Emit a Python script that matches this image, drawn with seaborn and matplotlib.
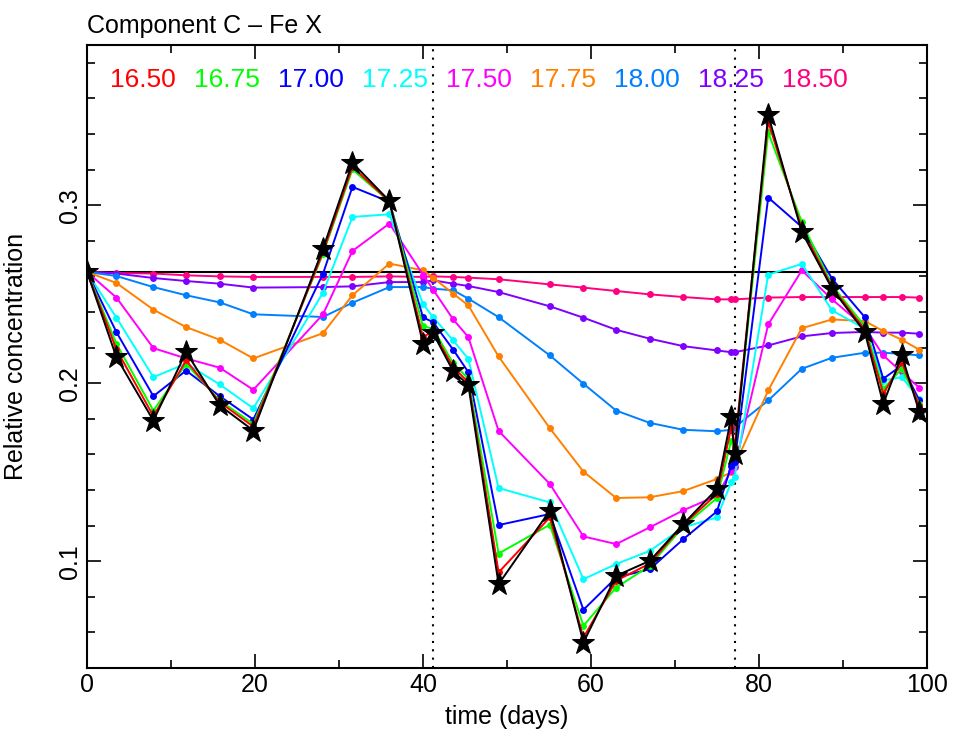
import pandas as pd
import matplotlib
matplotlib.use('Agg')
import matplotlib.pyplot as plt
import seaborn as sns
from matplotlib.ticker import MultipleLocator

# observation times (days)
t = [0, 3.5, 7.9, 11.8, 15.8, 19.8, 28.1, 31.6, 36.0, 40.0, 41.2, 43.6, 45.4, 49.0, 55.1,
     59.1, 63.0, 67.0, 71.0, 75.0, 76.7, 77.1, 81.1, 85.1, 88.7, 92.6, 94.8, 97.0, 99.1]

obs = [0.2625, 0.2146, 0.1790, 0.2175, 0.1875, 0.1734, 0.2756, 0.3238, 0.3024, 0.2222,
       0.2281, 0.2067, 0.1990, 0.0871, 0.1284, 0.0543, 0.0918, 0.1002, 0.1209, 0.1406,
       0.1809, 0.1603, 0.3506, 0.2850, 0.2531, 0.2287, 0.1884, 0.2156, 0.1837]

c1650 = [0.2625, 0.2190, 0.1815, 0.2128, 0.1893, 0.1756, 0.2737, 0.3216, 0.3020, 0.2260,
         0.2290, 0.2090, 0.2005, 0.0937, 0.1246, 0.0571, 0.0890, 0.0987, 0.1205, 0.1378,
         0.1752, 0.1640, 0.3469, 0.2870, 0.2540, 0.2300, 0.1940, 0.2118, 0.1870]
c1675 = [0.2625, 0.2222, 0.1846, 0.2109, 0.1903, 0.1771, 0.2728, 0.3201, 0.3020, 0.2320,
         0.2306, 0.2111, 0.2025, 0.1043, 0.1205, 0.0637, 0.0852, 0.0974, 0.1195, 0.1355,
         0.1678, 0.1612, 0.3409, 0.2906, 0.2550, 0.2320, 0.1968, 0.2081, 0.1884]
c1700 = [0.2625, 0.2287, 0.1927, 0.2071, 0.1927, 0.1796, 0.2616, 0.3103, 0.3019, 0.2370,
         0.2343, 0.2188, 0.2062, 0.1203, 0.1265, 0.0727, 0.0908, 0.0955, 0.1124, 0.1280,
         0.1537, 0.1556, 0.3043, 0.2878, 0.2587, 0.2371, 0.2025, 0.2100, 0.1903]
c1725 = [0.2625, 0.2368, 0.2034, 0.2110, 0.1993, 0.1859, 0.2509, 0.2934, 0.2949, 0.2445,
         0.2371, 0.2240, 0.2137, 0.1411, 0.1330, 0.0899, 0.0984, 0.1058, 0.1190, 0.1246,
         0.1443, 0.1471, 0.2610, 0.2670, 0.2409, 0.2306, 0.2015, 0.2034, 0.1912]
c1750 = [0.2625, 0.2481, 0.2197, 0.2139, 0.2087, 0.1963, 0.2387, 0.2743, 0.2897, 0.2610,
         0.2526, 0.2358, 0.2259, 0.1732, 0.1434, 0.1139, 0.1096, 0.1190, 0.1286, 0.1368,
         0.1509, 0.1527, 0.2330, 0.2634, 0.2471, 0.2315, 0.2156, 0.2062, 0.1974]
c1775 = [0.2625, 0.2563, 0.2413, 0.2315, 0.2244, 0.2139, 0.2281, 0.2494, 0.2672, 0.2634,
         0.2593, 0.2503, 0.2437, 0.2150, 0.1747, 0.1503, 0.1355, 0.1359, 0.1394, 0.1462,
         0.1499, 0.1537, 0.1959, 0.2309, 0.2358, 0.2349, 0.2293, 0.2244, 0.2188]
c1800 = [0.2625, 0.2602, 0.2540, 0.2494, 0.2454, 0.2387, 0.2372, 0.2452, 0.2540, 0.2540,
         0.2531, 0.2522, 0.2475, 0.2371, 0.2156, 0.1997, 0.1846, 0.1777, 0.1738, 0.1730,
         0.1738, 0.1752, 0.1903, 0.2081, 0.2143, 0.2171, 0.2171, 0.2165, 0.2156]
c1825 = [0.2625, 0.2616, 0.2591, 0.2574, 0.2559, 0.2537, 0.2540, 0.2544, 0.2568, 0.2568,
         0.2578, 0.2559, 0.2546, 0.2512, 0.2432, 0.2368, 0.2300, 0.2250, 0.2208, 0.2184,
         0.2174, 0.2174, 0.2212, 0.2263, 0.2282, 0.2288, 0.2284, 0.2284, 0.2278]
c1850 = [0.2625, 0.2619, 0.2616, 0.2606, 0.2600, 0.2597, 0.2597, 0.2597, 0.2600, 0.2597,
         0.2600, 0.2597, 0.2593, 0.2584, 0.2555, 0.2537, 0.2518, 0.2499, 0.2484, 0.2471,
         0.2471, 0.2471, 0.2481, 0.2484, 0.2484, 0.2484, 0.2484, 0.2484, 0.2481]

labels = ['16.50', '16.75', '17.00', '17.25', '17.50', '17.75', '18.00', '18.25', '18.50']
series = [c1650, c1675, c1700, c1725, c1750, c1775, c1800, c1825, c1850]
colors = ['#ff0000', '#00ff00', '#0000ff', '#00ffff', '#ff00ff',
          '#ff8000', '#0080ff', '#8000ff', '#ff0080']

ref_level = 0.2625
sectors = [41.2, 77.2]


def main():
    sns.set_style('ticks')
    plt.rcParams['font.family'] = ['Liberation Sans', 'DejaVu Sans']
    plt.rcParams['xtick.direction'] = 'in'
    plt.rcParams['ytick.direction'] = 'in'
    for k in ['text.color', 'axes.labelcolor', 'xtick.color', 'ytick.color', 'axes.edgecolor']:
        plt.rcParams[k] = 'black'

    rows = []
    for lab, vals in zip(labels, series):
        for ti, v in zip(t, vals):
            rows.append({'time': ti, 'conc': v, 'logT': lab})
    df = pd.DataFrame(rows)

    fig = plt.figure(figsize=(9.68, 7.39), dpi=100)
    ax = fig.add_axes([0.0899, 0.0961, 0.8677, 0.8430])

    ax.axhline(ref_level, color='black', lw=1.5, zorder=1)
    for s in sectors:
        ax.axvline(s, color='black', lw=1.5, ls=(0, (1, 3)), zorder=1)

    sns.lineplot(data=df, x='time', y='conc', hue='logT', hue_order=labels[::-1],
                 palette=dict(zip(labels, colors)), marker='o', markersize=5,
                 markeredgewidth=0, lw=1.4, legend=False, ax=ax, zorder=2)

    sns.lineplot(x=t, y=obs, color='black', marker='*', markersize=17,
                 markeredgecolor='black', lw=1.4, ax=ax, zorder=3)

    ax.set_xlim(0, 100)
    ax.set_ylim(0.04, 0.39)
    ax.xaxis.set_major_locator(MultipleLocator(20))
    ax.xaxis.set_minor_locator(MultipleLocator(10))
    ax.yaxis.set_major_locator(MultipleLocator(0.1))
    ax.yaxis.set_minor_locator(MultipleLocator(0.02))
    ax.tick_params(which='both', top=True, right=True, labelsize=18, width=1.2,
                   color='black', labelcolor='black')
    ax.tick_params(which='major', length=10)
    ax.tick_params(which='minor', length=6)
    ax.set_yticks([0.1, 0.2, 0.3])
    ax.set_yticklabels(['0.1', '0.2', '0.3'], rotation=90, va='center')
    for sp in ax.spines.values():
        sp.set_linewidth(1.5)
        sp.set_color('black')

    ax.set_xlabel('time (days)', fontsize=18, labelpad=6)
    ax.set_ylabel('Relative concentration', fontsize=18, labelpad=22)
    ax.text(0, 1.012, 'Component C \u2013 Fe X', transform=ax.transAxes,
            fontsize=18, ha='left', va='bottom')

    for i, (lab, col) in enumerate(zip(labels, colors)):
        ax.text(2.7 + 10 * i, 0.944, lab, color=col, fontsize=19,
                ha='left', va='center', transform=ax.get_xaxis_transform())

    fig.savefig('out.png', dpi=100)
    plt.close(fig)


main()
